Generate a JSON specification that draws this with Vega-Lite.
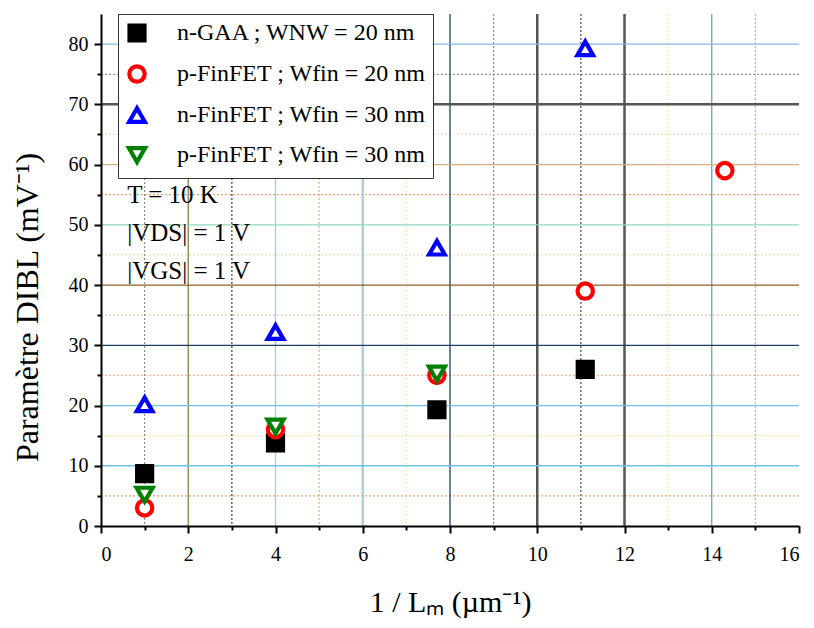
{
  "$schema": "https://vega.github.io/schema/vega-lite/v6.json",
  "width": 698,
  "height": 512,
  "autosize": "none",
  "padding": {"left": 101, "top": 14, "right": 15, "bottom": 102},
  "background": "white",
  "config": {"view": {"stroke": null}, "font": "Liberation Serif"},
  "datasets": {
    "pts": [
      {"x": 1, "dibl": 8.7, "series": "n-GAA ; WNW = 20 nm"},
      {"x": 4, "dibl": 13.8, "series": "n-GAA ; WNW = 20 nm"},
      {"x": 7.7, "dibl": 19.3, "series": "n-GAA ; WNW = 20 nm"},
      {"x": 11.1, "dibl": 26, "series": "n-GAA ; WNW = 20 nm"},
      {"x": 1, "dibl": 3, "series": "p-FinFET ; Wfin = 20 nm"},
      {"x": 4, "dibl": 16, "series": "p-FinFET ; Wfin = 20 nm"},
      {"x": 7.7, "dibl": 25, "series": "p-FinFET ; Wfin = 20 nm"},
      {"x": 11.1, "dibl": 39, "series": "p-FinFET ; Wfin = 20 nm"},
      {"x": 14.3, "dibl": 59, "series": "p-FinFET ; Wfin = 20 nm"},
      {"x": 1, "dibl": 20.2, "series": "n-FinFET ; Wfin = 30 nm"},
      {"x": 4, "dibl": 32.2, "series": "n-FinFET ; Wfin = 30 nm"},
      {"x": 7.7, "dibl": 46.2, "series": "n-FinFET ; Wfin = 30 nm"},
      {"x": 11.1, "dibl": 79.3, "series": "n-FinFET ; Wfin = 30 nm"},
      {"x": 1, "dibl": 5.2, "series": "p-FinFET ; Wfin = 30 nm"},
      {"x": 4, "dibl": 16.5, "series": "p-FinFET ; Wfin = 30 nm"},
      {"x": 7.7, "dibl": 25.3, "series": "p-FinFET ; Wfin = 30 nm"}
    ],
    "vmaj": [{"gx": 2}, {"gx": 4}, {"gx": 6}, {"gx": 8}, {"gx": 10}, {"gx": 12}, {"gx": 14}],
    "vmin": [{"gx": 1}, {"gx": 3}, {"gx": 5}, {"gx": 7}, {"gx": 9}, {"gx": 11}, {"gx": 13}, {"gx": 15}],
    "hmaj": [{"gy": 10}, {"gy": 20}, {"gy": 30}, {"gy": 40}, {"gy": 50}, {"gy": 60}, {"gy": 70}, {"gy": 80}],
    "hmin": [{"gy": 5}, {"gy": 15}, {"gy": 25}, {"gy": 35}, {"gy": 45}, {"gy": 55}, {"gy": 65}, {"gy": 75}],
    "notes": [{"note": "T = 10 K"}]
  },
  "layer": [
    {
      "data": {"name": "vmin"},
      "mark": {"type": "rule", "strokeDash": [2, 2], "strokeWidth": 1.2},
      "encoding": {
        "x": {"field": "gx", "type": "quantitative", "scale": {"domain": [0, 16], "nice": false},
          "axis": {"orient": "bottom", "values": [1, 3, 5, 7, 9, 11, 13, 15], "labels": false, "domain": false, "grid": false, "ticks": true, "tickSize": 4, "tickWidth": 2, "tickColor": "black", "title": null, "zindex": 1}},
        "color": {"field": "gx", "type": "ordinal", "legend": null,
          "scale": {"domain": [1, 3, 5, 7, 9, 11, 13, 15], "range": ["#8c8c8c", "#3a3a3a", "#f0a860", "#ecebb0", "#6f9a9a", "#4a4a4a", "#ecebb0", "#ff9a9a"]}}
      }
    },
    {
      "data": {"name": "hmin"},
      "mark": {"type": "rule", "strokeDash": [2, 2], "strokeWidth": 1.2},
      "encoding": {
        "y": {"field": "gy", "type": "quantitative", "scale": {"domain": [0, 85], "nice": false},
          "axis": {"orient": "left", "values": [5, 15, 25, 35, 45, 55, 65, 75], "labels": false, "domain": false, "grid": false, "ticks": true, "tickSize": 4, "tickWidth": 2, "tickColor": "black", "title": null, "zindex": 1}},
        "color": {"field": "gy", "type": "ordinal", "legend": null,
          "scale": {"domain": [5, 15, 25, 35, 45, 55, 65, 75], "range": ["#f0a060", "#ecec9a", "#f8b8a0", "#e0c8a8", "#d8ecb8", "#f0a060", "#d8ecb8", "#7a7a7a"]}}
      }
    },
    {
      "data": {"name": "vmaj"},
      "mark": {"type": "rule"},
      "encoding": {
        "x": {"field": "gx", "type": "quantitative", "axis": null},
        "strokeWidth": {"condition": {"test": "datum.gx == 10 || datum.gx == 12 || datum.gx == 6", "value": 2.5}, "value": 1.3},
        "color": {"field": "gx", "type": "ordinal", "legend": null,
          "scale": {"domain": [2, 4, 6, 8, 10, 12, 14], "range": ["#808050", "#87cefa", "#b0cfd8", "#1f3f5f", "#555555", "#555555", "#6aa0c0"]}}
      }
    },
    {
      "data": {"name": "hmaj"},
      "mark": {"type": "rule"},
      "encoding": {
        "y": {"field": "gy", "type": "quantitative", "axis": null},
        "strokeWidth": {"condition": {"test": "datum.gy == 70", "value": 2.5}, "value": 1.3},
        "color": {"field": "gy", "type": "ordinal", "legend": null,
          "scale": {"domain": [10, 20, 30, 40, 50, 60, 70, 80], "range": ["#6cc4e8", "#6cc4e8", "#1f3f5f", "#8b6030", "#90d8c0", "#d8b080", "#555555", "#8ab8e0"]}}
      }
    },
    {
      "data": {"name": "pts"},
      "mark": {"type": "point", "filled": true, "strokeWidth": 4.2, "opacity": 1},
      "encoding": {
        "x": {"field": "x", "type": "quantitative",
          "axis": {"orient": "bottom", "values": [0, 2, 4, 6, 8, 10, 12, 14, 16], "format": "d", "grid": false, "domainColor": "black", "domainWidth": 2, "tickColor": "black", "tickWidth": 2, "tickSize": 7, "labelFont": "Liberation Serif", "labelFontSize": 20, "labelColor": "black", "labelPadding": 11,
            "title": "1 / Lₘ  (µm⁻¹)", "titleFont": "Liberation Serif", "titleFontSize": 30, "titleFontWeight": "normal", "titleColor": "black", "titlePadding": 23, "zindex": 1}},
        "y": {"field": "dibl", "type": "quantitative",
          "axis": {"orient": "left", "values": [0, 10, 20, 30, 40, 50, 60, 70, 80], "grid": false, "domainColor": "black", "domainWidth": 2, "tickColor": "black", "tickWidth": 2, "tickSize": 7, "labelFont": "Liberation Serif", "labelFontSize": 20, "labelColor": "black", "labelPadding": 6,
            "title": "Paramètre DIBL  (mV⁻¹)", "titleFont": "Liberation Serif", "titleFontSize": 32, "titleFontWeight": "normal", "titleColor": "black", "titlePadding": 24, "titleY": 293, "zindex": 1}},
        "shape": {"field": "series", "type": "nominal",
          "scale": {"domain": ["n-GAA ; WNW = 20 nm", "p-FinFET ; Wfin = 20 nm", "n-FinFET ; Wfin = 30 nm", "p-FinFET ; Wfin = 30 nm"], "range": ["square", "circle", "triangle-up", "triangle-down"]},
          "legend": {"orient": "none", "legendX": 17, "legendY": 0, "title": null, "direction": "vertical", "fillColor": "white", "strokeColor": "#333333", "padding": 7, "labelFont": "Liberation Serif", "labelFontSize": 24, "labelColor": "black", "labelLimit": 400, "labelOffset": 28, "symbolStrokeWidth": 4.2, "rowPadding": 8, "symbolOpacity": 1}},
        "stroke": {"field": "series", "type": "nominal",
          "scale": {"domain": ["n-GAA ; WNW = 20 nm", "p-FinFET ; Wfin = 20 nm", "n-FinFET ; Wfin = 30 nm", "p-FinFET ; Wfin = 30 nm"], "range": ["#000000", "#ff0000", "#0000ff", "#008000"]}},
        "fill": {"field": "series", "type": "nominal",
          "scale": {"domain": ["n-GAA ; WNW = 20 nm", "p-FinFET ; Wfin = 20 nm", "n-FinFET ; Wfin = 30 nm", "p-FinFET ; Wfin = 30 nm"], "range": ["#000000", "#ffffff", "#ffffff", "#ffffff"]}},
        "size": {"field": "series", "type": "nominal",
          "scale": {"domain": ["n-GAA ; WNW = 20 nm", "p-FinFET ; Wfin = 20 nm", "n-FinFET ; Wfin = 30 nm", "p-FinFET ; Wfin = 30 nm"], "range": [225, 256, 576, 576]}}
      }
    },
    {
      "data": {"name": "notes"},
      "mark": {"type": "text", "text": ["T = 10 K", "|VDS| = 1 V", "|VGS| = 1 V"], "align": "left", "baseline": "top", "font": "Liberation Serif", "fontSize": 25, "lineHeight": 38, "color": "black"},
      "encoding": {
        "x": {"datum": 0.6, "type": "quantitative", "scale": {"domain": [0, 16], "nice": false}, "axis": null},
        "y": {"datum": 57, "type": "quantitative", "scale": {"domain": [0, 85], "nice": false}, "axis": null}
      }
    }
  ],
  "resolve": {
    "scale": {"color": "independent", "strokeWidth": "independent"},
    "axis": {"x": "independent", "y": "independent"}
  }
}
